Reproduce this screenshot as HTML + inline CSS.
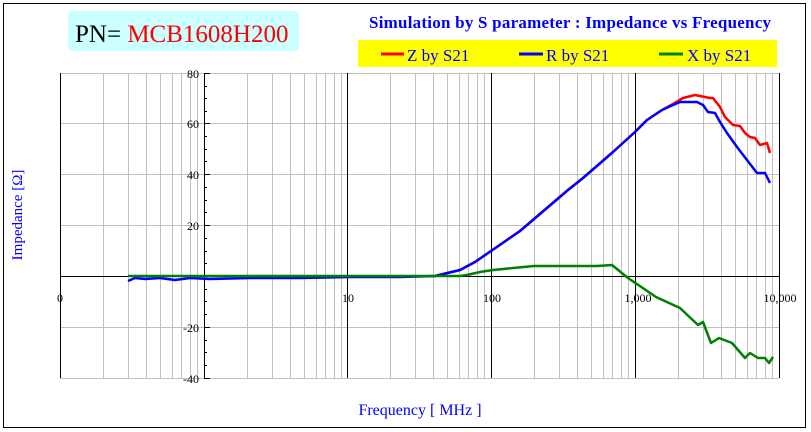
<!DOCTYPE html>
<html><head><meta charset="utf-8"><style>
body{margin:0;background:#fff;width:811px;height:432px;overflow:hidden}
svg{display:block;font-family:"Liberation Serif",serif}
</style></head><body>
<svg width="811" height="432" viewBox="0 0 811 432">
<rect x="3.5" y="3.5" width="802" height="424" fill="#fff" stroke="#000" stroke-width="1"/>
<rect x="68" y="11" width="231" height="40" rx="4" fill="#ccffff"/>
<text x="75" y="42" font-size="25"><tspan fill="#000">PN= </tspan><tspan fill="#ff0000">MCB1608H200</tspan></text>
<text x="570" y="28" font-size="17" font-weight="bold" fill="#0000ff" text-anchor="middle" textLength="402">Simulation by S parameter : Impedance vs Frequency</text>
<rect x="358" y="40" width="419" height="27" fill="#ffff00"/>
<line x1="381" y1="54" x2="404" y2="54" stroke="#ff0000" stroke-width="3"/>
<text x="407" y="61" font-size="17" fill="#0000ff">Z by S21</text>
<line x1="519" y1="54" x2="543" y2="54" stroke="#0000ff" stroke-width="3"/>
<text x="546" y="61" font-size="17" fill="#0000ff">R by S21</text>
<line x1="659" y1="54" x2="683" y2="54" stroke="#008000" stroke-width="3"/>
<text x="687" y="61" font-size="17" fill="#0000ff">X by S21</text>
<g stroke="#c0c0c0" stroke-width="1">
<line x1="60" y1="73.5" x2="779" y2="73.5"/><line x1="60" y1="123.5" x2="779" y2="123.5"/><line x1="60" y1="174.5" x2="779" y2="174.5"/><line x1="60" y1="225.5" x2="779" y2="225.5"/><line x1="60" y1="327.5" x2="779" y2="327.5"/><line x1="60" y1="378.5" x2="779" y2="378.5"/>
<g id="dec">
<line x1="103.5" y1="73" x2="103.5" y2="378"/><line x1="128.5" y1="73" x2="128.5" y2="378"/><line x1="146.5" y1="73" x2="146.5" y2="378"/><line x1="160.5" y1="73" x2="160.5" y2="378"/><line x1="172.5" y1="73" x2="172.5" y2="378"/><line x1="181.5" y1="73" x2="181.5" y2="378"/><line x1="190.5" y1="73" x2="190.5" y2="378"/><line x1="197.5" y1="73" x2="197.5" y2="378"/>
</g>
<use href="#dec" x="144"/><use href="#dec" x="287"/><use href="#dec" x="431"/><use href="#dec" x="575"/>
</g>
<g stroke="#000" stroke-width="1">
<line x1="60.5" y1="73" x2="60.5" y2="378"/><line x1="347.5" y1="73" x2="347.5" y2="378"/><line x1="491.5" y1="73" x2="491.5" y2="378"/><line x1="635.5" y1="73" x2="635.5" y2="378"/><line x1="779.5" y1="73" x2="779.5" y2="378"/>
<line x1="204.5" y1="73" x2="204.5" y2="378"/>
<line x1="60" y1="276.5" x2="779" y2="276.5"/>
<path d="M204 73.5h6M204 86.5h3M204 98.5h3M204 111.5h3M204 123.5h6M204 136.5h3M204 149.5h3M204 161.5h3M204 174.5h6M204 187.5h3M204 200.5h3M204 212.5h3M204 225.5h6M204 238.5h3M204 251.5h3M204 263.5h3M204 289.5h3M204 301.5h3M204 314.5h3M204 327.5h6M204 340.5h3M204 352.5h3M204 365.5h3M204 378.5h6"/>
</g>
<g font-size="12" fill="#000" text-anchor="end">
<text x="199" y="78">80</text><text x="199" y="128">60</text><text x="199" y="179">40</text><text x="199" y="230">20</text><text x="199" y="332">-20</text><text x="199" y="383">-40</text>
</g>
<g font-size="12" fill="#000" text-anchor="middle">
<text x="60" y="302">0</text><text x="348" y="302">10</text><text x="492" y="302">100</text><text x="638" y="302">1,000</text><text x="780" y="302">10,000</text>
</g>
<text x="420" y="415" font-size="16" fill="#0000ff" text-anchor="middle">Frequency [ MHz ]</text>
<text transform="translate(22,215) rotate(-90)" font-size="15" fill="#0000ff" text-anchor="middle">Impedance [Ω]</text>
<g fill="none" stroke-width="2.5" stroke-linejoin="round">
<polyline stroke="#ff0000" points="435,276 460,270 475,262 491,251 520,231 568,190 583,178 613,152 635,132 647,120 662,110 673,104 683,98 695,95 710,98 713,98 720,107 725,117 733,125 740,126 745,133 750,137 755,138 760,145 767,143 770,153"/>
<polyline stroke="#0000ff" points="128,281 135,278 145,279 160,278 175,280 190,278 210,279 250,278 300,278 350,277 400,277 435,276 460,270 475,262 491,251 520,231 568,190 583,178 613,152 635,132 647,120 662,110 673,105 680,102 697,102 703,105 708,112 715,113 720,122 727,133 737,147 747,160 757,173 765,173 770,183"/>
<polyline stroke="#008000" points="128,276 460,276 467,275 480,272 493,270 534,266 597,266 612,265 628,278 656,297 680,308 698,325 703,322 711,343 719,338 732,343 745,358 750,353 758,358 765,358 769,363 773,357"/>
</g>
</svg>
</body></html>
